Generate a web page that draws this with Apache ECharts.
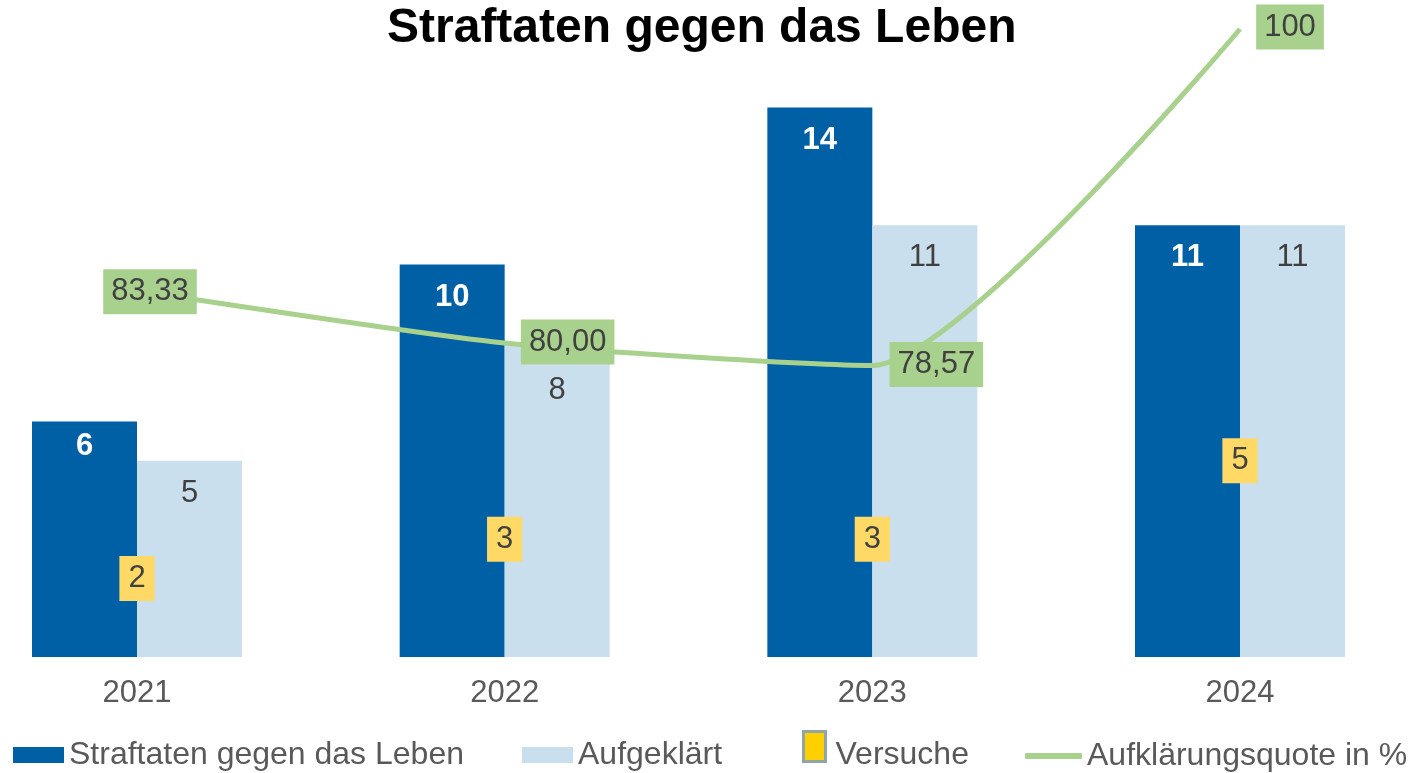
<!DOCTYPE html>
<html>
<head>
<meta charset="utf-8">
<title>Straftaten gegen das Leben</title>
<script src="https://cdn.jsdelivr.net/npm/echarts@6/dist/echarts.min.js"></script>
<style>
  html, body { margin: 0; padding: 0; background: #fff; }
  #chart { width: 1412px; height: 773px; }
</style>
</head>
<body>
<div id="chart"></div>
<script>
// Daten
const categories = ["2021", "2022", "2023", "2024"];
const straftaten = [6, 10, 14, 11];
const aufgeklaert = [5, 8, 11, 11];
const versuche = [2, 3, 3, 5];
const quote = [83.33, 80.0, 78.57, 100];
const seriesNames = ["Straftaten gegen das Leben", "Aufgeklärt", "Versuche", "Aufklärungsquote in %"];

const FONT = "'Liberation Sans', Arial, sans-serif";
const DARK = "#0060A6";
const LIGHT = "#C9DFEE";
const GREEN = "#A9D18E";
const TEXT = "#404040";

var myChart = echarts.init(document.getElementById("chart"), null, { renderer: "canvas" });

// Label-Verschiebungen (wie in der Vorlage manuell platziert)
const darkOffsets = [[0, -8], [0, 0], [0, 0], [0, 0]];
const lightOffsets = [[0, 0], [0, 15], [0, 0], [0, 0]];
const quoteOffsets = [[13, 1], [63, -1], [64, -1], [50, -2]];

function legendBox(name, left, top, w, h, extra) {
  return Object.assign({
    data: [{ name: name, icon: "rect" }],
    left: left,
    top: top,
    padding: 0,
    itemWidth: w,
    itemHeight: h,
    selectedMode: false,
    textStyle: { fontSize: 32, color: "#595959", fontFamily: FONT }
  }, extra || {});
}

var option = {
  animation: false,
  textStyle: { fontFamily: FONT },
  title: {
    text: "Straftaten gegen das Leben",
    left: 382,
    top: 0,
    textStyle: { fontSize: 48, fontWeight: "bold", color: "#000", fontFamily: FONT }
  },
  legend: [
    legendBox(seriesNames[0], 13, 739, 51, 16),
    legendBox(seriesNames[1], 522, 739, 51, 16),
    legendBox(seriesNames[2], 802, 730, 22, 30, {
      data: [{
        name: seriesNames[2],
        icon: "rect",
        itemStyle: { color: "#FFD000", borderColor: "#8FA5A8", borderWidth: 3, opacity: 1 }
      }],
      formatter: "{v|{name}}",
      textStyle: {
        fontSize: 32, color: "#595959", fontFamily: FONT,
        rich: { v: { fontSize: 32, color: "#595959", fontFamily: FONT, padding: [18, 0, 0, 5] } }
      }
    }),
    legendBox(seriesNames[3], 1025, 740, 57, 6, {
      data: [{ name: seriesNames[3], icon: "roundRect", itemStyle: { color: GREEN } }]
    })
  ],
  grid: {
    left: 137,
    right: 172,
    top: 29,
    bottom: 116,
    containLabel: false
  },
  xAxis: {
    type: "category",
    data: categories,
    boundaryGap: false,
    axisLine: { show: false },
    axisTick: { show: false },
    splitLine: { show: false },
    axisLabel: { fontSize: 31, color: "#595959", margin: 21, fontFamily: FONT }
  },
  yAxis: [
    { type: "value", min: 0, max: 16, show: false },
    { type: "value", min: 60, max: 100, show: false }
  ],
  series: [
    {
      name: seriesNames[0],
      type: "bar",
      barWidth: 105,
      barGap: "0%",
      clip: false,
      itemStyle: { color: DARK },
      label: {
        show: true,
        position: "insideTop",
        distance: 17,
        color: "#fff",
        fontWeight: "bold",
        fontSize: 31,
        fontFamily: FONT
      },
      data: straftaten.map(function (v, i) {
        return { value: v, label: { offset: darkOffsets[i] } };
      })
    },
    {
      name: seriesNames[1],
      type: "bar",
      barWidth: 105,
      barGap: "0%",
      clip: false,
      itemStyle: { color: LIGHT },
      label: {
        show: true,
        position: "insideTop",
        distance: 17,
        color: TEXT,
        fontSize: 31,
        fontFamily: FONT
      },
      data: aufgeklaert.map(function (v, i) {
        return { value: v, label: { offset: lightOffsets[i] } };
      })
    },
    {
      name: seriesNames[2],
      type: "scatter",
      symbol: "rect",
      symbolSize: 0,
      clip: false,
      itemStyle: { color: "rgba(0,0,0,0)", opacity: 1 },
      z: 5,
      label: {
        show: true,
        position: "inside",
        color: TEXT,
        opacity: 1,
        fontSize: 31,
        fontFamily: FONT,
        backgroundColor: "#FFD966",
        padding: [7, 9, 7, 9]
      },
      data: versuche
    },
    {
      name: seriesNames[3],
      type: "line",
      yAxisIndex: 1,
      smooth: 0.2,
      clip: false,
      symbol: "circle",
      symbolSize: 1,
      z: 6,
      lineStyle: { color: GREEN, width: 5 },
      itemStyle: { color: GREEN },
      label: {
        show: true,
        position: "inside",
        color: TEXT,
        fontSize: 31,
        fontFamily: FONT,
        backgroundColor: GREEN,
        padding: [7, 8, 7, 8],
        formatter: function (p) {
          var v = p.value;
          return v === 100 ? "100" : v.toFixed(2).replace(".", ",");
        }
      },
      data: quote.map(function (v, i) {
        return { value: v, label: { offset: quoteOffsets[i] } };
      })
    }
  ]
};

myChart.setOption(option, true);
</script>
</body>
</html>
